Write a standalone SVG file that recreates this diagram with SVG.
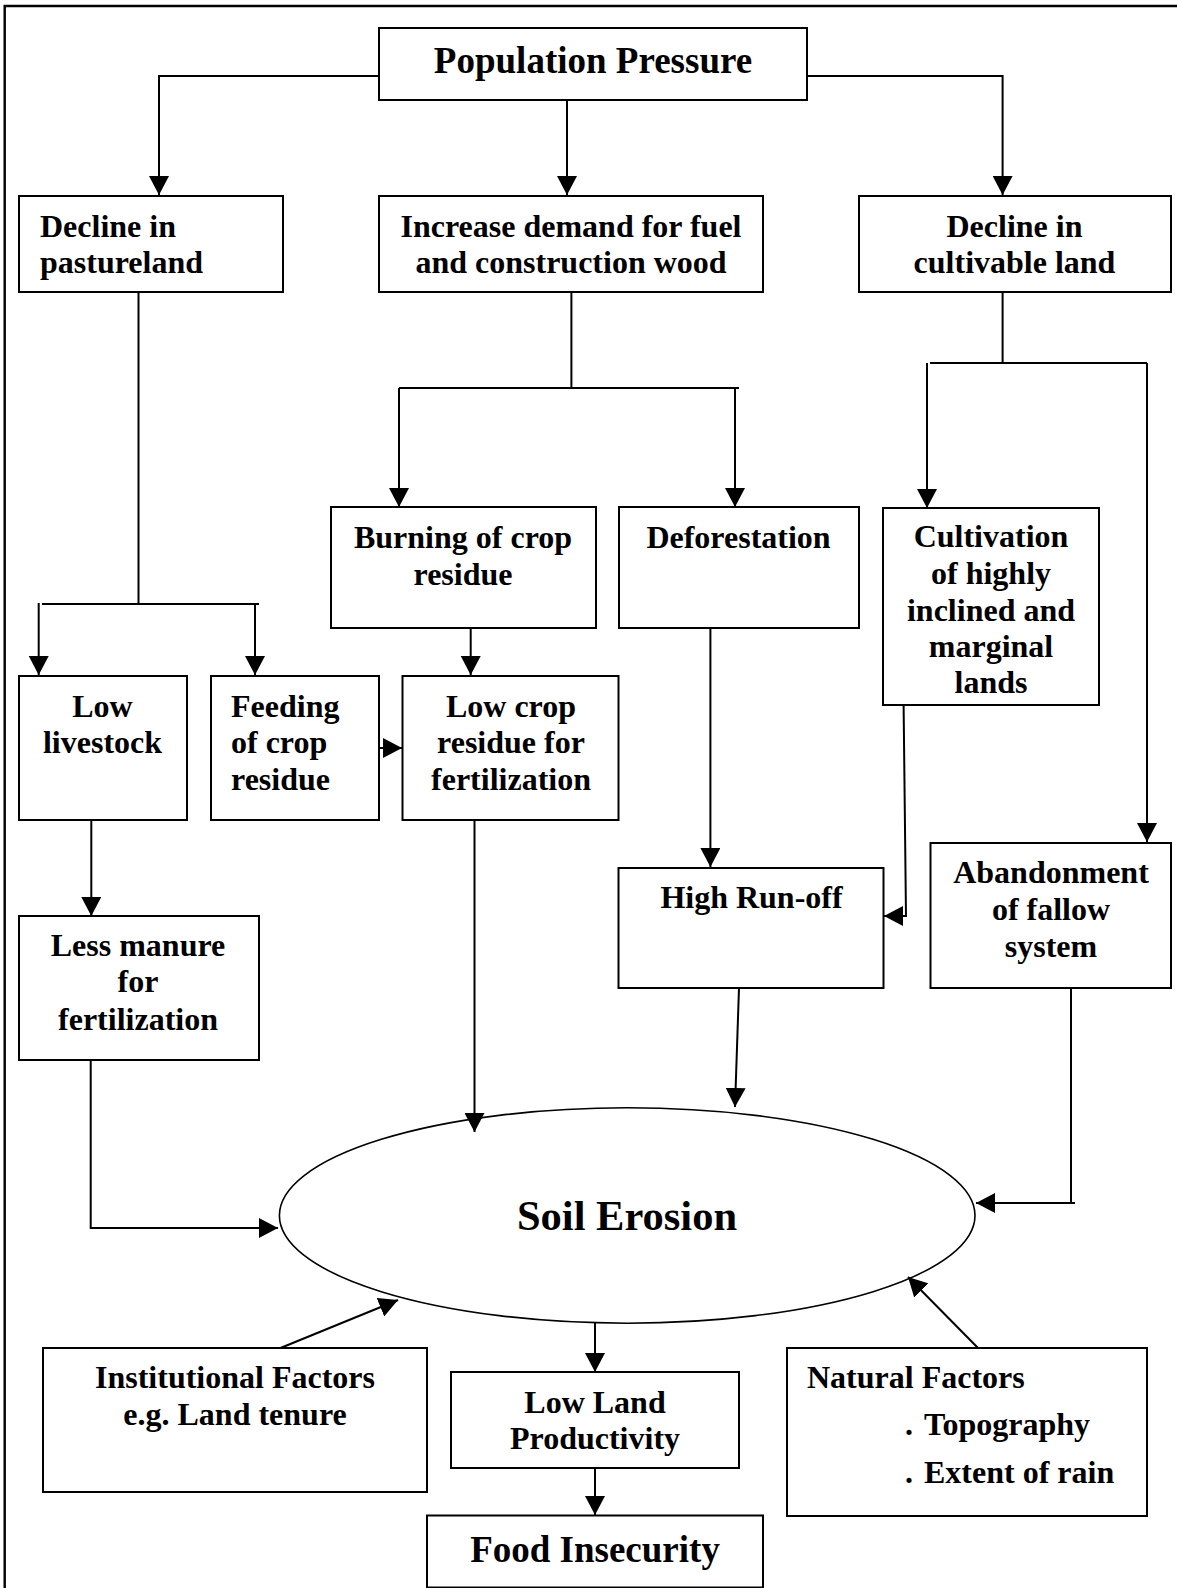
<svg xmlns="http://www.w3.org/2000/svg" width="1177" height="1588" viewBox="0 0 1177 1588">
<style>
.box{fill:#fff;stroke:#000;stroke-width:2}
.t{font-family:"Liberation Serif","Times New Roman",serif;font-weight:bold;font-size:32px;fill:#000}
.c{text-anchor:middle}
.big{font-size:37px}
.ln{fill:none;stroke:#000;stroke-width:2}
.ar{marker-end:url(#ah)}
</style>
<defs>
<marker id="ah" markerUnits="userSpaceOnUse" markerWidth="20" markerHeight="20" refX="19" refY="10" orient="auto" viewBox="0 0 20 20">
<path d="M0,0 L19,10 L0,20 z" fill="#000"/>
</marker>
</defs>
<rect width="1177" height="1588" fill="#fff"/>
<g id="frame">
<path d="M4.7,1588 V6 H1177" fill="none" stroke="#000" stroke-width="2.4"/>
</g>
<g id="population-pressure">
<rect class="box" x="379" y="28" width="428" height="72"/>
<text class="t c big" x="593" y="73">Population Pressure</text>
</g>
<g id="decline-pastureland">
<rect class="box" x="19" y="196" width="264" height="96"/>
<text class="t" x="40" y="237">Decline in</text>
<text class="t" x="40" y="273">pastureland</text>
</g>
<g id="increase-demand">
<rect class="box" x="379" y="196" width="384" height="96"/>
<text class="t c" x="571" y="237">Increase demand for fuel</text>
<text class="t c" x="571" y="273">and construction wood</text>
</g>
<g id="decline-cultivable">
<rect class="box" x="859" y="196" width="312" height="96"/>
<text class="t c" x="1014.5" y="237">Decline in</text>
<text class="t c" x="1014.5" y="273">cultivable land</text>
</g>
<g id="burning-crop-residue">
<rect class="box" x="331" y="507" width="265" height="121"/>
<text class="t c" x="463" y="548">Burning of crop</text>
<text class="t c" x="463" y="585">residue</text>
</g>
<g id="deforestation">
<rect class="box" x="619" y="507" width="240" height="121"/>
<text class="t c" x="738.5" y="548">Deforestation</text>
</g>
<g id="cultivation">
<rect class="box" x="883" y="508" width="216" height="197"/>
<text class="t c" x="991" y="547">Cultivation</text>
<text class="t c" x="991" y="583.5">of highly</text>
<text class="t c" x="991" y="620.5">inclined and</text>
<text class="t c" x="991" y="657">marginal</text>
<text class="t c" x="991" y="693">lands</text>
</g>
<g id="low-livestock">
<rect class="box" x="19" y="676" width="168" height="144"/>
<text class="t c" x="102.5" y="717">Low</text>
<text class="t c" x="102.5" y="753">livestock</text>
</g>
<g id="feeding-crop-residue">
<rect class="box" x="211" y="676" width="168" height="144"/>
<text class="t" x="231" y="717">Feeding</text>
<text class="t" x="231" y="753">of crop</text>
<text class="t" x="231" y="790">residue</text>
</g>
<g id="low-crop-residue">
<rect class="box" x="402.5" y="676" width="216" height="144"/>
<text class="t c" x="511" y="717">Low crop</text>
<text class="t c" x="511" y="753">residue for</text>
<text class="t c" x="511" y="790">fertilization</text>
</g>
<g id="less-manure">
<rect class="box" x="19" y="916" width="240" height="144"/>
<text class="t c" x="138" y="956">Less manure</text>
<text class="t c" x="138" y="992">for</text>
<text class="t c" x="138" y="1030">fertilization</text>
</g>
<g id="high-run-off">
<rect class="box" x="618.5" y="868" width="265" height="120"/>
<text class="t c" x="751.5" y="908">High Run-off</text>
</g>
<g id="abandonment">
<rect class="box" x="930.5" y="843" width="240.5" height="145"/>
<text class="t c" x="1051" y="883">Abandonment</text>
<text class="t c" x="1051" y="920">of fallow</text>
<text class="t c" x="1051" y="957">system</text>
</g>
<g id="soil-erosion">
<ellipse cx="627.2" cy="1215.5" rx="347.8" ry="107.7" fill="none" stroke="#000" stroke-width="1.6"/>
<text class="t c" x="627" y="1230" style="font-size:42.5px">Soil Erosion</text>
</g>
<g id="institutional-factors">
<rect class="box" x="43" y="1348" width="384" height="144"/>
<text class="t c" x="235" y="1388">Institutional Factors</text>
<text class="t c" x="235" y="1425">e.g. Land tenure</text>
</g>
<g id="low-land-productivity">
<rect class="box" x="451" y="1372" width="288" height="96"/>
<text class="t c" x="595" y="1413">Low Land</text>
<text class="t c" x="595" y="1449">Productivity</text>
</g>
<g id="food-insecurity">
<rect class="box" x="427" y="1515.5" width="336" height="72"/>
<text class="t c big" x="595" y="1562">Food Insecurity</text>
</g>
<g id="natural-factors">
<rect class="box" x="787" y="1348" width="360" height="168"/>
<text class="t" x="807" y="1388">Natural Factors</text>
<text class="t" y="1435"><tspan x="905">.</tspan><tspan x="924">Topography</tspan></text>
<text class="t" y="1483"><tspan x="905">.</tspan><tspan x="924">Extent of rain</tspan></text>
</g>
<g id="connectors">
<path class="ln ar" d="M379,76 H159 V195"/>
<path class="ln ar" d="M567,100 V195"/>
<path class="ln ar" d="M807,76 H1002.6 V195"/>
<path class="ln" d="M138.5,292 V604 M42,604 H259"/>
<path class="ln ar" d="M38.7,603 V675"/>
<path class="ln ar" d="M255,604 V675"/>
<path class="ln" d="M571.4,292 V388 M399,388 H739"/>
<path class="ln ar" d="M399,388 V507"/>
<path class="ln ar" d="M735,388 V507"/>
<path class="ln" d="M1002.6,292 V363 M930,363 H1147"/>
<path class="ln ar" d="M927,363 V508"/>
<path class="ln ar" d="M1147,363 V842"/>
<path class="ln ar" d="M470.7,628 V675"/>
<path class="ln ar" d="M379,748 H402"/>
<path class="ln ar" d="M91.3,820 V916"/>
<path class="ln ar" d="M710.4,628 V867"/>
<path class="ln ar" d="M903.6,705 L906,916 H884"/>
<path class="ln ar" d="M90.7,1060 V1228 H278"/>
<path class="ln ar" d="M474.5,820 V1132"/>
<path class="ln ar" d="M739,988 L735,1107"/>
<path class="ln" d="M1071,988 V1203"/>
<path class="ln ar" d="M1075,1203 H976"/>
<path class="ln ar" d="M595,1323 V1372"/>
<path class="ln ar" d="M595,1468 V1515"/>
<path class="ln ar" d="M280.5,1348 L398,1300"/>
<path class="ln ar" d="M978,1348 L908,1277"/>
</g>
</svg>
